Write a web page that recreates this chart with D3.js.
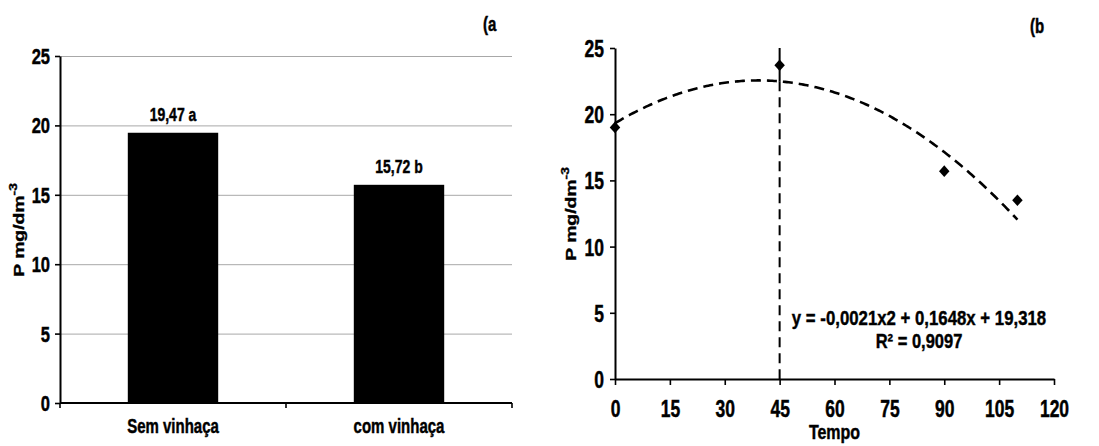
<!DOCTYPE html>
<html>
<head>
<meta charset="utf-8">
<script src="https://cdn.jsdelivr.net/npm/d3@7"></script>
<style>
  body { margin: 0; background: #fff; }
  svg { display: block; }
  text { font-family: "Liberation Sans", Arial, sans-serif; font-weight: bold; fill: #000; stroke: #000; stroke-width: 0.35px; }
</style>
</head>
<body>
<svg id="chart" width="1099" height="446"></svg>
<script>
// Panel (a): mean soil P per treatment
const treatments = ["Sem vinhaça", "com vinhaça"];
const treatmentMeans = [19.47, 15.72];
const treatmentLetters = ["a", "b"];
const pTicks = [0, 5, 10, 15, 20, 25];

// Panel (b): soil P over time
const days = [0, 45, 90, 110];
const pByDay = [19.0, 23.7, 15.7, 13.5];
const dayTicks = [0, 15, 30, 45, 60, 75, 90, 105, 120];
const trendCoef = [-0.0021, 0.1648, 19.318];   // y = a·x² + b·x + c
const trendDays = [0, 110];
const markerDay = 45;
const equationText = "y = -0,0021x2 + 0,1648x + 19,318";
const r2Text = "R² = 0,9097";

const ptBR = d3.formatLocale({ decimal: ",", thousands: ".", grouping: [3], currency: ["R$", ""] });
const fmt2 = ptBR.format(".2f");

const svg = d3.select("#chart");
const STRETCH = 1.36;

function styleAxis(g) {
  g.attr("font-family", null).attr("font-size", null);
  g.select(".domain").attr("stroke", "#000").attr("stroke-width", 2);
  g.selectAll(".tick line").attr("stroke", "#000").attr("stroke-width", 1.6);
}

function yTitle(x, y) {
  const t = svg.append("text")
    .attr("transform", `translate(${x},${y}) rotate(-90) scale(1.25,1)`)
    .attr("text-anchor", "middle")
    .style("font-size", "15.5px");
  t.append("tspan").text("P mg/dm");
  t.append("tspan").attr("dy", -7).style("font-size", "11px").text("-3");
}

// ---------- Panel (a) ----------
const aX = d3.scaleBand().domain(treatments).range([60, 512]).paddingInner(0.6).paddingOuter(0.3);
const aY = d3.scaleLinear().domain([0, 25]).range([403, 56]);

// horizontal gridlines
svg.append("g")
  .attr("transform", "translate(60,0)")
  .call(d3.axisLeft(aY).tickValues(pTicks.filter(d => d > 0)).tickSize(-452).tickFormat(""))
  .call(g => g.select(".domain").remove())
  .call(g => g.selectAll(".tick line").attr("stroke", "#a8a8a8").attr("stroke-width", 1));

// bars
svg.append("g").selectAll("rect")
  .data(treatments)
  .join("rect")
  .attr("x", d => aX(d))
  .attr("width", aX.bandwidth())
  .attr("y", (d, i) => aY(treatmentMeans[i]))
  .attr("height", (d, i) => aY(0) - aY(treatmentMeans[i]))
  .attr("fill", "#000");

// value labels
svg.append("g").selectAll("text")
  .data(treatments)
  .join("text")
  .attr("text-anchor", "middle")
  .attr("transform", (d, i) => `translate(${aX(d) + aX.bandwidth() / 2},${aY(treatmentMeans[i]) - 12}) scale(1,${STRETCH})`)
  .style("font-size", "14px")
  .text((d, i) => `${fmt2(treatmentMeans[i])} ${treatmentLetters[i]}`);

// y axis
svg.append("g")
  .attr("transform", "translate(60,0)")
  .call(d3.axisLeft(aY).tickValues(pTicks).tickSize(5).tickSizeOuter(0).tickFormat(d3.format("d")))
  .call(styleAxis)
  .call(g => g.selectAll(".tick text")
    .attr("x", null).attr("dy", null)
    .attr("transform", `translate(-10,7.5) scale(1,${STRETCH})`)
    .style("font-size", "16.5px").attr("fill", "#000"));

// x axis: category labels under bars, ticks at category boundaries
svg.append("g")
  .attr("transform", "translate(0,403)")
  .call(d3.axisBottom(aX).tickSize(0).tickSizeOuter(0))
  .call(styleAxis)
  .call(g => g.select(".domain").attr("d", `M${aX.range()[0]},0H${aX.range()[1]}`))
  .call(g => g.selectAll(".tick text")
    .attr("y", null).attr("dy", null)
    .attr("transform", `translate(0,30) scale(1,${STRETCH})`)
    .style("font-size", "15px").attr("fill", "#000"));
const edgeStep = (aX.range()[1] - aX.range()[0]) / treatments.length;
svg.append("g").selectAll("line")
  .data(d3.range(treatments.length + 1))
  .join("line")
  .attr("x1", i => aX.range()[0] + i * edgeStep)
  .attr("x2", i => aX.range()[0] + i * edgeStep)
  .attr("y1", 403).attr("y2", 408)
  .attr("stroke", "#000").attr("stroke-width", 1.6);

yTitle(24, 230);

svg.append("text")
  .attr("transform", `translate(483,31) scale(1,${STRETCH})`)
  .style("font-size", "15px")
  .text("(a");

// ---------- Panel (b) ----------
const bX = d3.scaleLinear().domain([0, 120]).range([615, 1054]);
const bY = d3.scaleLinear().domain([0, 25]).range([379, 48]);
const trend = x => trendCoef[0] * x * x + trendCoef[1] * x + trendCoef[2];

// reference line at the marked day: solid above the curve, dashed below
svg.append("line")
  .attr("x1", bX(markerDay)).attr("x2", bX(markerDay))
  .attr("y1", bY(25)).attr("y2", bY(trend(markerDay)))
  .attr("stroke", "#000").attr("stroke-width", 2);
svg.append("line")
  .attr("x1", bX(markerDay)).attr("x2", bX(markerDay))
  .attr("y1", bY(trend(markerDay))).attr("y2", bY(0))
  .attr("stroke", "#000").attr("stroke-width", 2)
  .attr("stroke-dasharray", "10,6");

// quadratic trend line
const curveDays = d3.range(trendDays[0], trendDays[1] + 0.001, 0.5);
svg.append("path")
  .datum(curveDays)
  .attr("fill", "none")
  .attr("stroke", "#000")
  .attr("stroke-width", 2.6)
  .attr("stroke-dasharray", "10,6")
  .attr("d", d3.line().x(d => bX(d)).y(d => bY(trend(d))));

// axes
svg.append("g")
  .attr("transform", "translate(615,0)")
  .call(d3.axisLeft(bY).tickValues(pTicks).tickSize(5).tickSizeOuter(0).tickFormat(d3.format("d")))
  .call(styleAxis)
  .call(g => g.selectAll(".tick text")
    .attr("x", null).attr("dy", null)
    .attr("transform", `translate(-11,8.5) scale(1,${STRETCH})`)
    .style("font-size", "17.5px").attr("fill", "#000"));

svg.append("g")
  .attr("transform", "translate(0,379)")
  .call(d3.axisBottom(bX).tickValues(dayTicks).tickSize(6).tickSizeOuter(0).tickFormat(d3.format("d")))
  .call(styleAxis)
  .call(g => g.selectAll(".tick text")
    .attr("y", null).attr("dy", null)
    .attr("transform", `translate(0,38) scale(1,${STRETCH})`)
    .style("font-size", "17.5px").attr("fill", "#000"));

// observed points
svg.append("g").selectAll("path")
  .data(days)
  .join("path")
  .attr("transform", (d, i) => `translate(${bX(d)},${bY(pByDay[i])}) scale(0.9,1) rotate(45)`)
  .attr("d", d3.symbol(d3.symbolSquare, 68))
  .attr("fill", "#000");

svg.append("text")
  .attr("text-anchor", "middle")
  .attr("transform", `translate(${(bX.range()[0] + bX.range()[1]) / 2},439) scale(1,1.3)`)
  .style("font-size", "16px")
  .text("Tempo");

yTitle(576, 214);

svg.append("text")
  .attr("text-anchor", "middle")
  .attr("transform", `translate(919,325) scale(1,1.18)`)
  .style("font-size", "16.8px")
  .text(equationText);
svg.append("text")
  .attr("text-anchor", "middle")
  .attr("transform", `translate(919,348) scale(1,1.18)`)
  .style("font-size", "16.5px")
  .text(r2Text);

svg.append("text")
  .attr("transform", `translate(1030,33) scale(1,${STRETCH})`)
  .style("font-size", "15px")
  .text("(b");
</script>
</body>
</html>
